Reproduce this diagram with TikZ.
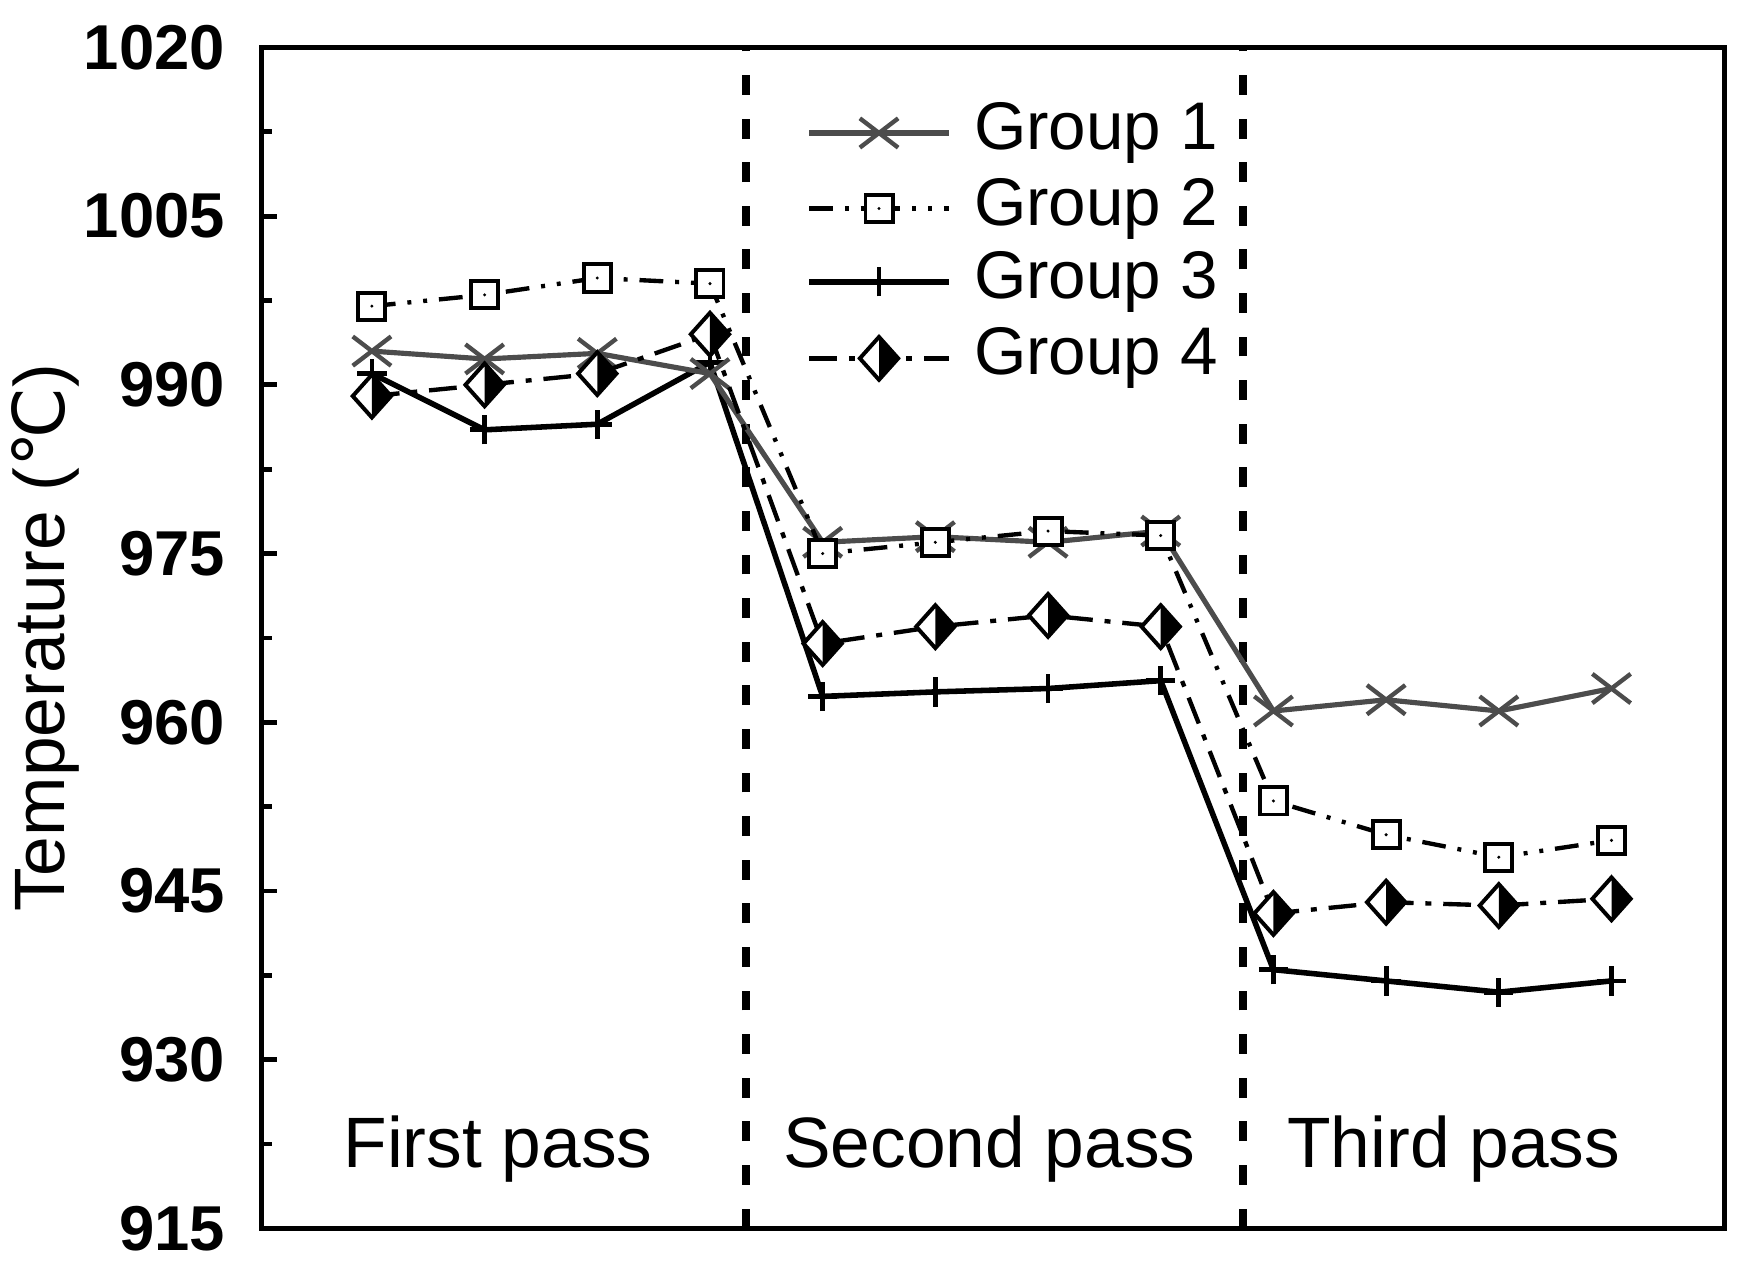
\documentclass[tikz,border=0pt]{standalone}
\usepackage{fontspec}
\setmainfont{Liberation Sans}
\newfontfamily\djv{DejaVu Sans}
\begin{document}
\begin{tikzpicture}[x=0.01cm,y=0.01cm,
  g1/.style={gray!60!black,line width=1.3pt},
  g2/.style={black,line width=1.1pt,dash pattern=on 6pt off 3pt on 1pt off 3pt on 1pt off 3pt},
  g3/.style={black,line width=1.4pt},
  g4/.style={black,line width=1.1pt,dash pattern=on 7pt off 3pt on 1.5pt off 3pt},
  sep/.style={black,line width=2.2pt,dash pattern=on 5pt off 6pt},
  tl/.style={font=\bfseries\fontsize{16}{19}\selectfont,anchor=east},
  big/.style={font=\fontsize{18}{21}\selectfont},
  leg/.style={font=\fontsize{17}{20}\selectfont}]
\useasboundingbox (0,0) rectangle (1560,1132);
\newcommand\mkA[2]{\draw[gray!60!black,line width=1.1pt] (#1,#2) ++(-17,-13) -- ++(34,26) ++(0,-26) -- ++(-34,26);}
\newcommand\mkB[2]{\filldraw[fill=white,draw=black,line width=1pt] (#1,#2) ++(-12,-12) rectangle ++(24,24); \fill (#1,#2) circle (1.5);}
\newcommand\mkC[2]{\draw[black,line width=1.2pt] (#1,#2) ++(0,-13) -- ++(0,26) (#1,#2) ++(-13,0) -- ++(26,0);}
\newcommand\mkD[2]{\filldraw[fill=white,draw=black,line width=1pt] (#1,#2) ++(0,-19)--++(-17,19)--++(17,19)--++(17,-19)--cycle; \fill (#1,#2) ++(0,-19)--++(17,19)--++(-17,19)--cycle;}
% frame
\draw[line width=1.3pt] (232,42) rectangle (1530,1090);
\foreach \v in {915,930,...,1020}{
  \pgfmathsetmacro\yy{42+(\v-915)*9.98}
  \draw[line width=1.2pt] (232,\yy) -- (246,\yy);
  \node[tl] at (212,\yy) {\v};}
\foreach \v in {922.5,937.5,...,1012.5}{
  \pgfmathsetmacro\yy{42+(\v-915)*9.98}
  \draw[line width=1.2pt] (232,\yy) -- (241,\yy);}
\node[big,rotate=90] (yl) at (40,566) {Temperature ({\djv ℃})};
% separators
\draw[sep] (662,42) -- (662,1090);
\draw[sep] (1103,42) -- (1103,1090);
\node[big] (p1) at (442,112) {First pass};
\node[big] (p2) at (878,112) {Second pass};
\node[big] (p3) at (1290,112) {Third pass};
% data
\def\xs{330,430,530,630,730,830,930,1030,1130,1230,1330,1430}
\def\dA{993,992.3,992.8,991,976,976.5,976,977,961,962,961,963}
\def\dB{997,998,999.5,999,975,976,977,976.6,953,950,948,949.5}
\def\dC{991,986,986.5,992,962.3,962.7,963,963.7,938,937,936,937}
\def\dD{989,990,991,994.5,967,968.5,969.5,968.5,943,944,943.7,944.3}
\foreach \d/\s/\m in {\dC/g3/C,\dA/g1/A,\dB/g2/B,\dD/g4/D}{
  \xdef\lst{\d}
  \gdef\pth{}
  \foreach \x [count=\i] in \xs {
    \pgfmathsetmacro\v{{\lst}[\i-1]}
    \pgfmathsetmacro\yy{42+(\v-915)*9.98}
    \xdef\pth{\pth (\x,\yy)}}
  \draw[\s] plot coordinates {\pth};
  \foreach \x [count=\i] in \xs {
    \pgfmathsetmacro\v{{\lst}[\i-1]}
    \pgfmathsetmacro\yy{42+(\v-915)*9.98}
    \csname mk\m\endcsname{\x}{\yy}}
}
% legend
\foreach \yy/\s/\m/\t in {1014/g1/A/Group 1,947/g2/B/Group 2,882/g3/C/Group 3,814/g4/D/Group 4}{
  \draw[\s] (718,\yy) -- (842,\yy);
  \csname mk\m\endcsname{780}{\yy}
  \node[leg,anchor=west] at (852,\yy) {\t};}
\end{tikzpicture}
\end{document}
